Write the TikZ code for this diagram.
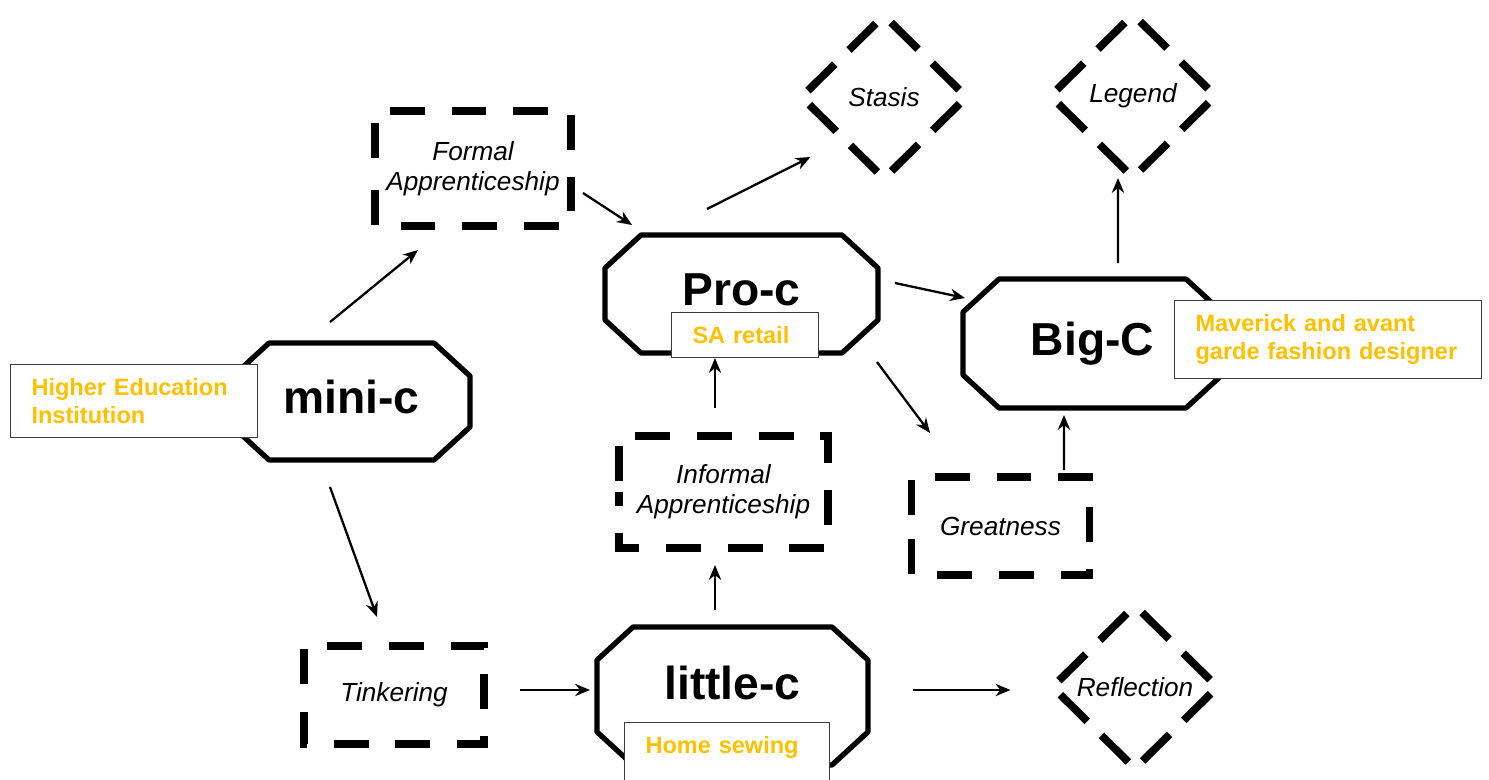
\documentclass[tikz,border=0pt]{standalone}
\usepackage{fontspec}
\setmainfont{Liberation Sans}
\usepackage{xcolor}
\definecolor{noteText}{RGB}{255,192,0}
\definecolor{noteLine}{RGB}{60,60,60}
\usepackage{tikz}
\usetikzlibrary{arrows.meta,shapes.geometric,positioning,calc}
\tikzstyle{stage}=[inner sep=0pt, outer sep=0pt, text height=0.68cm, text depth=0.2cm, font=\fontsize{26.3}{30}\selectfont\bfseries]
\tikzstyle{stageline}=[line width=3pt, line join=round]
\tikzstyle{phase}=[inner sep=0pt, outer sep=0pt, align=center, font=\fontsize{14.9}{17}\selectfont\itshape]
\tikzstyle{phaseline}=[line width=4.4pt, line join=miter, dash pattern=on 19.8pt off 15.3pt, dash phase=29pt]
\tikzstyle{fate}=[diamond, inner sep=0pt, outer sep=0pt, minimum width=3.3cm, minimum height=3.26cm, font=\fontsize{14.9}{17}\selectfont\itshape]
\tikzstyle{fateline}=[line width=4.4pt, dash pattern=on 21.5pt off 11.4pt, dash phase=27.2pt]
\tikzstyle{note}=[draw=noteLine, line width=0.6pt, fill=white, text=noteText, anchor=north west, align=left, inner xsep=0.42cm, inner ysep=0.28cm, font=\fontsize{13.4}{15.9}\selectfont\bfseries]
\tikzstyle{flow}=[-{Stealth[length=8.5pt,width=7pt]}, line width=1.3pt]

\begin{document}
\begin{tikzpicture}[x=0.02cm, y=-0.02cm]
        \useasboundingbox (0,0) rectangle (1489,780);
        \clip (0,0) rectangle (1489,780);
        % levels of creativity
        \node[stage, minimum width=4.74cm, minimum height=2.34cm] (mini) at (351.5,401.5) {mini-c};
        \node[stage, minimum width=5.46cm, minimum height=2.36cm] (pro) at (741.5,294) {Pro-c};
        \node[stage, minimum width=5.18cm, minimum height=2.58cm] (big) at (1092.5,343.5) {Big-C};
        \node[stage, minimum width=5.42cm, minimum height=2.76cm, text depth=0.52cm] (little) at (732.5,696) {little-c};
        \foreach \n in {mini,pro,big,little}{
          \draw[stageline] ($(\n.north west)+(36,0)$) -- ($(\n.north east)+(-36,0)$) -- ($(\n.north east)+(0,33)$)
            -- ($(\n.south east)+(0,-33)$) -- ($(\n.south east)+(-36,0)$) -- ($(\n.south west)+(36,0)$)
            -- ($(\n.south west)+(0,-33)$) -- ($(\n.north west)+(0,33)$) -- cycle;
        }
        % transitions
        \node[phase, minimum width=3.92cm, minimum height=2.3cm] (formal) at (473,168.5) {Formal\\Apprenticeship};
        \node[phase, minimum width=4.18cm, minimum height=2.24cm] (informal) at (723.5,492) {Informal\\Apprenticeship};
        \node[phase, minimum width=3.56cm, minimum height=1.96cm] (greatness) at (1000.5,526) {Greatness};
        \node[phase, minimum width=3.6cm, minimum height=1.96cm] (tinkering) at (394,695) {Tinkering};
        \foreach \n in {formal,informal,greatness,tinkering}{
          \draw[phaseline] (\n.west) -- (\n.north west) -- (\n.north east) -- (\n.south east) -- (\n.south west) -- (\n.west);
        }
        % outcomes
        \node[fate] (stasis) at (884,97) {Stasis};
        \node[fate] (legend) at (1133,96) {Legend};
        \node[fate] (reflection) at (1135,687) {Reflection};
        \foreach \n in {stasis,legend,reflection}{
          \draw[fateline] (\n.north) -- (\n.east) -- (\n.south) -- (\n.west) -- (\n.north);
        }
        % arrows
        \draw[flow] ($(mini.north)+(-21.5,-21)$) -- ($(formal.south)+(-55,24)$);
        \draw[flow] ($(formal.east)+(12,24.5)$) -- ($(pro.north west)+(27,-10)$);
        \draw[flow] ($(pro.north)+(-34.5,-26)$) -- ($(stasis.west)+(9,60)$);
        \draw[flow] ($(pro.east)+(17,-11)$) -- ($(big.west)+(2,-45.5)$);
        \draw[flow] ($(big.north)+(25.5,-16)$) -- ($(legend.south)+(-15,0.5)$);
        \draw[flow] ($(pro.south east)+(-1,9)$) -- ($(greatness.north west)+(18.5,-44)$);
        \draw[flow] ($(greatness.north)+(63.5,-7)$) -- ($(big.south)+(-28.5,7)$);
        \draw[flow] ($(informal.north)+(-8.5,-28)$) -- ($(pro.south)+(-26.5,5)$);
        \draw[flow] ($(little.north)+(-17.5,-17)$) -- ($(informal.south)+(-8.5,17)$);
        \draw[flow] ($(mini.south)+(-21.5,27)$) -- ($(tinkering.north)+(-17,-29)$);
        \draw[flow] ($(tinkering.east)+(36,-5)$) -- ($(little.west)+(-7,-6)$);
        \draw[flow] ($(little.east)+(45,-6)$) -- ($(reflection.west)+(-42,3)$);
        % fashion examples
        \node[note, text width=4.1cm] (hei) at (10,364) {Higher Education\\Institution};
        \node[note, text width=2.1cm] (retail) at (671,312) {SA retail};
        \node[note, text width=5.3cm] (maverick) at (1174,300) {Maverick and avant\\garde fashion designer};
        \node[note, text width=3.26cm] (sewing) at (624,722) {Home sewing\\\mbox{}};
\end{tikzpicture}
\end{document}
